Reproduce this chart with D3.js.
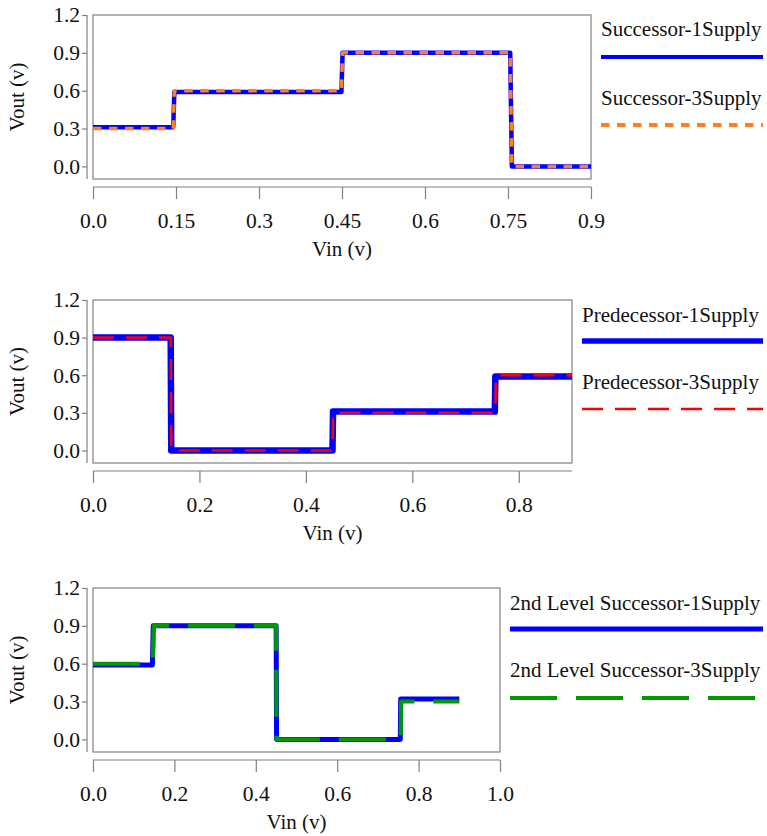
<!DOCTYPE html>
<html>
<head>
<meta charset="utf-8">
<script src="https://cdn.jsdelivr.net/npm/d3@7/dist/d3.min.js"></script>
<style>
  html, body { margin: 0; padding: 0; background: #fff; }
  svg text { font-family: "Liberation Serif", "Times New Roman", serif; fill: #111; }
</style>
</head>
<body>
<svg id="chart" width="767" height="836"></svg>
<script>
// ---------- DATA ----------
// Panel 1: Successor
const succ1X = [0, 0.145, 0.147, 0.449, 0.451, 0.754, 0.757, 0.9];
const succ1Y = [0.31, 0.31, 0.59, 0.59, 0.9, 0.9, 0.0, 0.0];
const succ3X = [0, 0.145, 0.147, 0.449, 0.451, 0.754, 0.757, 0.9];
const succ3Y = [0.30, 0.30, 0.60, 0.60, 0.9, 0.9, 0.0, 0.0];
// Panel 2: Predecessor
const pred1X = [0, 0.146, 0.147, 0.450, 0.451, 0.755, 0.756, 0.9];
const pred1Y = [0.9, 0.9, 0.0, 0.0, 0.31, 0.31, 0.59, 0.59];
const pred3X = [0, 0.146, 0.147, 0.450, 0.451, 0.756, 0.757, 0.9];
const pred3Y = [0.9, 0.9, 0.0, 0.0, 0.30, 0.30, 0.60, 0.60];
// Panel 3: 2nd Level Successor
const lvl1X = [0, 0.146, 0.148, 0.450, 0.451, 0.755, 0.756, 0.9];
const lvl1Y = [0.59, 0.59, 0.9, 0.9, 0.0, 0.0, 0.32, 0.32];
const lvl3X = [0, 0.147, 0.149, 0.450, 0.451, 0.756, 0.757, 0.9];
const lvl3Y = [0.60, 0.60, 0.9, 0.9, 0.0, 0.0, 0.30, 0.30];

const yTicks = [0, 0.3, 0.6, 0.9, 1.2];
const yTickLabels = ["0.0", "0.3", "0.6", "0.9", "1.2"];
const xTicks1 = [0, 0.15, 0.3, 0.45, 0.6, 0.75, 0.9];
const xTickLabels1 = ["0.0", "0.15", "0.3", "0.45", "0.6", "0.75", "0.9"];
const xTicks2 = [0, 0.2, 0.4, 0.6, 0.8];
const xTickLabels2 = ["0.0", "0.2", "0.4", "0.6", "0.8"];
const xTicks3 = [0, 0.2, 0.4, 0.6, 0.8, 1.0];
const xTickLabels3 = ["0.0", "0.2", "0.4", "0.6", "0.8", "1.0"];

const names1 = ["Successor-1Supply", "Successor-3Supply"];
const names2 = ["Predecessor-1Supply", "Predecessor-3Supply"];
const names3 = ["2nd Level Successor-1Supply", "2nd Level Successor-3Supply"];

const xTitle = "Vin (v)";
const yTitle = "Vout (v)";

// ---------- LAYOUT / STYLE ----------
const zip = (xs, ys) => xs.map((x, i) => [x, ys[i]]);
const panels = [
  {
    box: {x0: 93, x1: 591, y0: 15, y1: 179}, xDomain: [0, 0.9],
    xTicks: xTicks1, xLabels: xTickLabels1,
    legend: {x: 601, x1: 763, t1: 29, l1: 57, t2: 98, l2: 125},
    series: [
      {name: names1[0], pts: zip(succ1X, succ1Y), color: "#0000ff", width: 4.5, dash: null, legendWidth: 4},
      {name: names1[1], pts: zip(succ3X, succ3Y), color: "#ff7f27", width: 3.5, dash: "8.5,7.5", legendWidth: 4}
    ]
  },
  {
    box: {x0: 93, x1: 572, y0: 300, y1: 463}, xDomain: [0, 0.9],
    xTicks: xTicks2, xLabels: xTickLabels2,
    legend: {x: 582, x1: 763, t1: 315, l1: 341, t2: 382, l2: 409},
    series: [
      {name: names2[0], pts: zip(pred1X, pred1Y), color: "#0000ff", width: 6.5, dash: null, legendWidth: 5.5},
      {name: names2[1], pts: zip(pred3X, pred3Y), color: "#ff0000", width: 2.5, dash: "21,12", legendWidth: 2.5}
    ]
  },
  {
    box: {x0: 93, x1: 500, y0: 588, y1: 752}, xDomain: [0, 1.0],
    xTicks: xTicks3, xLabels: xTickLabels3,
    legend: {x: 510, x1: 763, t1: 603, l1: 629, t2: 670, l2: 698},
    series: [
      {name: names3[0], pts: zip(lvl1X, lvl1Y), color: "#0000ff", width: 5, dash: null, legendWidth: 5},
      {name: names3[1], pts: zip(lvl3X, lvl3Y), color: "#009a00", width: 4, dash: "47,19", legendWidth: 4}
    ]
  }
];

const svg = d3.select("#chart");
const axisColor = "#808080";
const tickFont = 21.5, legendFont = 21, titleFont = 21;

panels.forEach(p => {
  const b = p.box;
  const x = d3.scaleLinear().domain(p.xDomain).range([b.x0, b.x1]);
  const y = d3.scaleLinear().domain([-0.1, 1.2]).range([b.y1, b.y0]);
  const g = svg.append("g");

  // box
  g.append("rect").attr("x", b.x0).attr("y", b.y0)
    .attr("width", b.x1 - b.x0).attr("height", b.y1 - b.y0)
    .attr("fill", "none").attr("stroke", axisColor).attr("stroke-width", 1.2);

  // y axis (offset left)
  const yAx = g.append("g").attr("transform", `translate(${b.x0 - 6},0)`)
    .call(d3.axisLeft(y).tickValues(yTicks).tickSize(5).tickPadding(2)
      .tickFormat((d, i) => yTickLabels[i]));
  yAx.select(".domain").attr("d", `M0,${b.y0}V${b.y1}`).attr("stroke", axisColor).attr("stroke-width", 1.2);
  yAx.selectAll(".tick line").attr("stroke", axisColor).attr("stroke-width", 1.2);
  yAx.selectAll(".tick text").attr("font-size", tickFont).attr("font-family", "Liberation Serif").attr("fill", "#111");

  // x axis (offset down)
  const xAx = g.append("g").attr("transform", `translate(0,${b.y1 + 8})`)
    .call(d3.axisBottom(x).tickValues(p.xTicks).tickSize(12).tickPadding(14)
      .tickFormat((d, i) => p.xLabels[i]));
  xAx.select(".domain").attr("d", `M${b.x0},0H${b.x1}`).attr("stroke", axisColor).attr("stroke-width", 1.2);
  xAx.selectAll(".tick line").attr("stroke", axisColor).attr("stroke-width", 1.2);
  xAx.selectAll(".tick text").attr("font-size", tickFont).attr("font-family", "Liberation Serif").attr("fill", "#111");

  // titles
  g.append("text").attr("x", (b.x0 + b.x1) / 2).attr("y", b.y1 + 70)
    .attr("text-anchor", "middle").attr("dominant-baseline", "central")
    .attr("font-size", titleFont).text(xTitle);
  g.append("text")
    .attr("transform", `translate(17,${(b.y0 + b.y1) / 2}) rotate(-90)`)
    .attr("text-anchor", "middle").attr("dominant-baseline", "central")
    .attr("font-size", titleFont).text(yTitle);

  // lines
  const line = d3.line().x(d => x(d[0])).y(d => y(d[1]));
  p.series.forEach(s => {
    g.append("path").attr("d", line(s.pts))
      .attr("fill", "none").attr("stroke", s.color).attr("stroke-width", s.width)
      .attr("stroke-linejoin", "round")
      .attr("stroke-dasharray", s.dash);
  });

  // legend
  const L = p.legend;
  [[L.t1, L.l1], [L.t2, L.l2]].forEach(([ty, ly], i) => {
    const s = p.series[i];
    g.append("text").attr("x", L.x).attr("y", ty).attr("dominant-baseline", "central")
      .attr("font-size", legendFont).text(s.name);
    g.append("line").attr("x1", L.x).attr("x2", L.x1).attr("y1", ly).attr("y2", ly)
      .attr("stroke", s.color).attr("stroke-width", s.legendWidth)
      .attr("stroke-dasharray", s.dash);
  });
});
</script>
</body>
</html>
